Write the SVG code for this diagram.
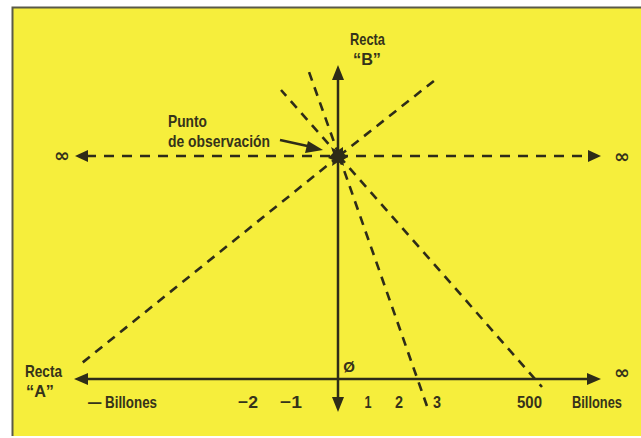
<svg xmlns="http://www.w3.org/2000/svg" width="641" height="438" viewBox="0 0 641 438">
<defs>
<style>
.t{font-family:"Liberation Sans","DejaVu Sans",sans-serif;font-weight:bold;font-size:17px;fill:#35331a}
.inf{font-family:"DejaVu Sans",sans-serif;font-weight:bold;font-size:19px;fill:#35331a}
.ax{stroke:#2e2c18;stroke-width:2.5;fill:none}
.ds{stroke:#2e2c18;stroke-width:2.6;fill:none;stroke-dasharray:9 7}
.hd{fill:#2e2c18}
</style>
</defs>
<rect x="0" y="0" width="641" height="438" fill="#ffffff"/>
<rect x="12" y="7" width="629" height="429" fill="#f6ee3c"/>
<path d="M12.5 436 V7.5 H641" stroke="#5a5a48" stroke-width="2" fill="none"/>
<g id="connectors">
<line class="ds" x1="339" y1="156" x2="309" y2="72"/>
<line class="ds" x1="339" y1="156" x2="428" y2="409"/>
<line class="ds" x1="339" y1="156" x2="281" y2="90"/>
<line class="ds" x1="339" y1="156" x2="542" y2="387"/>
<line class="ds" x1="339" y1="156" x2="435" y2="80"/>
<line class="ds" x1="339" y1="156" x2="82" y2="363"/>
<line class="ds" x1="86" y1="156" x2="592" y2="156" style="stroke-dasharray:10 8"/>
<polygon class="hd" points="75,156 88,150 88,162"/>
<polygon class="hd" points="601,156 588,150 588,162"/>
<line class="ax" x1="84" y1="379" x2="592" y2="379"/>
<polygon class="hd" points="74,379 88,373 88,385"/>
<polygon class="hd" points="601,379 587,373 587,385"/>
<line class="ax" x1="338" y1="76" x2="338" y2="400"/>
<polygon class="hd" points="338,65 332,80 344,80"/>
<polygon class="hd" points="338,412 332,397 344,397"/>
<line class="ax" x1="280" y1="140" x2="312" y2="147"/>
<polygon class="hd" points="323,150 308,141 305,153"/>
</g>
<g id="punto">
<polygon class="hd" points="331,147 337,151 343,147 343,153 348,157 343,160 344,166 338,162 332,166 333,160 328,158 333,153"/>
<circle class="hd" cx="339" cy="156" r="5.5"/>
</g>
<g id="labels">
<text class="t" x="350" y="45" textLength="35" lengthAdjust="spacingAndGlyphs">Recta</text>
<text class="t" x="353" y="65" textLength="28" lengthAdjust="spacingAndGlyphs">“B”</text>
<text class="t" x="168" y="127" textLength="39" lengthAdjust="spacingAndGlyphs">Punto</text>
<text class="t" x="168" y="147" textLength="102" lengthAdjust="spacingAndGlyphs">de observación</text>
<text class="inf" x="62" y="162" text-anchor="middle">∞</text>
<text class="inf" x="622" y="163" text-anchor="middle">∞</text>
<text class="inf" x="622" y="379" text-anchor="middle">∞</text>
<text class="t" x="25" y="377" textLength="37" lengthAdjust="spacingAndGlyphs">Recta</text>
<text class="t" x="26" y="397" textLength="28" lengthAdjust="spacingAndGlyphs">“A”</text>
<text class="t" x="88" y="408" textLength="69" lengthAdjust="spacingAndGlyphs">— Billones</text>
<text class="t" x="238" y="408" textLength="20" lengthAdjust="spacingAndGlyphs">−2</text>
<text class="t" x="280" y="408" textLength="22" lengthAdjust="spacingAndGlyphs">−1</text>
<text class="t" x="349" y="372" text-anchor="middle" style="font-size:15px">Ø</text>
<text class="t" x="368" y="408" text-anchor="middle" textLength="7" lengthAdjust="spacingAndGlyphs">1</text>
<text class="t" x="399" y="408" text-anchor="middle" textLength="8" lengthAdjust="spacingAndGlyphs">2</text>
<text class="t" x="437" y="408" text-anchor="middle" textLength="8" lengthAdjust="spacingAndGlyphs">3</text>
<text class="t" x="517" y="408" textLength="25" lengthAdjust="spacingAndGlyphs">500</text>
<text class="t" x="572" y="408" textLength="50" lengthAdjust="spacingAndGlyphs">Billones</text>
</g>
</svg>
